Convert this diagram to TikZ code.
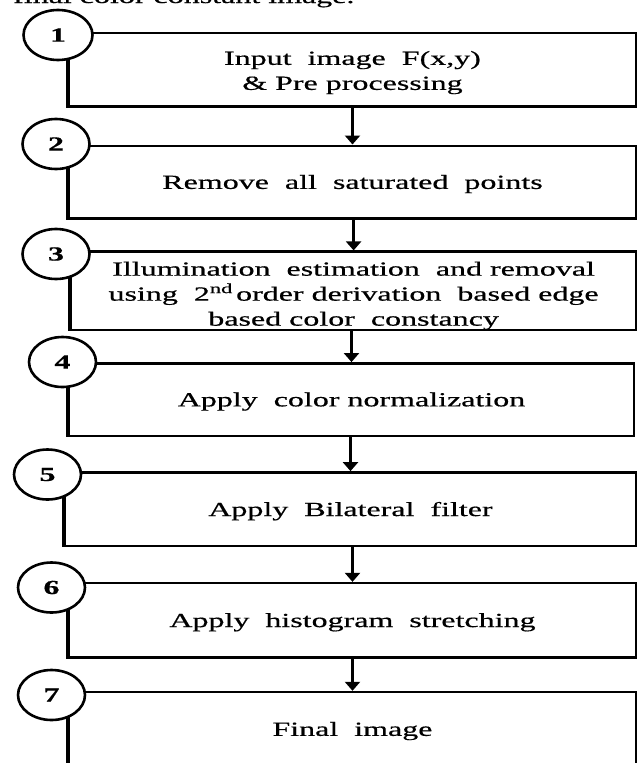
\documentclass[tikz,border=0pt]{standalone}
\usepackage{fontspec}
\setmainfont[FakeStretch=1.6,FakeBold=0.6]{Liberation Serif}
\usetikzlibrary{shapes.geometric,arrows.meta}
\newcommand\upstrut[1]{\rule{0pt}{#1}}
\tikzset{
  stepbox/.style={draw=black, line width=2.4pt, rectangle, inner sep=0pt, align=center,
    font=\fontsize{20}{25}\selectfont},
  numcirc/.style={ellipse, draw=black, line width=2.6pt, fill=white, minimum width=67pt,
    minimum height=50pt, inner sep=0pt, font=\fontsize{20}{25}\selectfont\bfseries},
  flow/.style={line width=2.6pt, -{Triangle[width=15pt,length=9pt]}},
  leftedge/.style={line width=3.8pt}
}
\begin{document}
\begin{tikzpicture}[x=1pt,y=-1pt]
\useasboundingbox (0,0) rectangle (637,763);
\clip (0,0) rectangle (637,763);
\fill[white] (0,0) rectangle (637,763);
% cut-off caption line at the top
\node[anchor=base west, inner sep=0pt, font=\fontsize{20}{25}\selectfont] (cap) at (13,3) {final\ color\ constant\ image.};
% boxes
\node[stepbox, minimum width=567pt, minimum height=73.6pt] (b1) at (352.5,69.5)
  {\upstrut{20pt}Input\ \ image\ \ F(x,y)\\ \& Pre processing};
\node[stepbox, minimum width=567pt, minimum height=72.6pt] (b2) at (352.5,182)
  {\upstrut{18pt}Remove\ \ all\ \ saturated\ \ points};
\node[stepbox, minimum width=565.8pt, minimum height=73pt] (b3) at (353.6,290.8)
  {\upstrut{24pt}Illumination\ \ estimation\ \ and removal\\ using\ \ 2\textsuperscript{nd}\,order derivation\ \ based edge\\ based color\ \ constancy};
\node[stepbox, minimum width=565pt, minimum height=72.4pt] (b4) at (351.5,399.5)
  {\upstrut{18pt}Apply\ \ color normalization};
\node[stepbox, minimum width=571pt, minimum height=73.7pt] (b5) at (350.5,509.2)
  {\upstrut{18pt}Apply\ \ Bilateral\ \ filter};
\node[stepbox, minimum width=567pt, minimum height=74.3pt] (b6) at (352.5,620.2)
  {\upstrut{18pt}Apply\ \ histogram\ \ stretching};
\node[stepbox, minimum width=567pt, minimum height=74pt] (b7) at (352.5,729)
  {\upstrut{18pt}Final\ \ image};
% thicker left edges
\foreach \b in {b1,b2,b3,b4,b5,b6,b7}
  \draw[leftedge] (\b.north west) -- (\b.south west);
% arrows
\draw[flow] (b2.north |- b1.south) -- (b2.north);
\draw[flow] (b3.north |- b2.south) -- (b3.north);
\draw[flow] (b4.north |- b3.south) -- (b4.north);
\draw[flow] (b5.north |- b4.south) -- (b5.north);
\draw[flow] (b6.north |- b5.south) -- (b6.north);
\draw[flow] (b7.north |- b6.south) -- (b7.north);
% numbered circles
\node[numcirc, minimum width=69pt] (c1) at (58,35) {1};
\node[numcirc] (c2) at (56,144) {2};
\node[numcirc] (c3) at (56,254) {3};
\node[numcirc] (c4) at (62.5,362) {4};
\node[numcirc] (c5) at (47.5,474.5) {5};
\node[numcirc] (c6) at (51.5,587.5) {6};
\node[numcirc] (c7) at (51.5,695) {7};
\end{tikzpicture}
\end{document}
